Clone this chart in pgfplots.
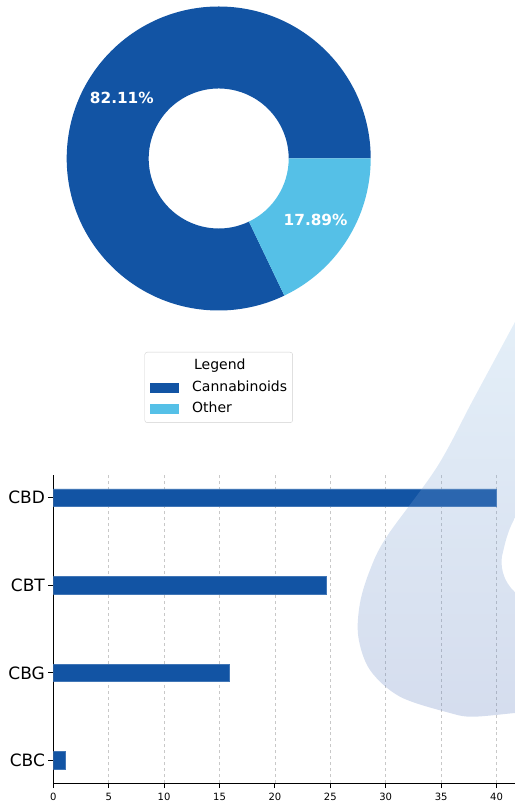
\documentclass[border=0pt]{standalone}
\usepackage{fontspec}
\setmainfont{DejaVu Sans}
\usepackage{pgfplots}
\pgfplotsset{compat=1.18}
\usetikzlibrary{calc}
\definecolor{cbblue}{HTML}{1254A4}
\definecolor{otherblue}{HTML}{55C0E7}
\definecolor{gridgray}{HTML}{C8C8C8}
\definecolor{wmtop}{RGB}{150,195,230}
\definecolor{wmbot}{RGB}{87,119,187}

\begin{document}
\begin{tikzpicture}
\useasboundingbox (0,0) rectangle (515bp,804bp);
% pie shares (percent)
\def\pieA{82.11}
\def\pieB{17.89}
\pgfmathsetmacro{\angA}{\pieA/(\pieA+\pieB)*360}
\pgfmathsetmacro{\midA}{\angA/2}
\pgfmathsetmacro{\midB}{(\angA+360)/2}

% donut
\begin{axis}[
  at={(218.7bp,645.5bp)}, anchor=center,
  scale only axis, width=304bp, height=304bp,
  xmin=-1, xmax=1, ymin=-1, ymax=1,
  hide axis,
  legend cell align=left,
  legend style={at={(0.5,-0.1365)}, anchor=north,
    draw=black!18, rounded corners=2.5bp,
    font=\fontsize{14bp}{16bp}\selectfont,
    inner xsep=5.5bp, inner ysep=7bp,
    nodes={inner sep=0pt, text height=10.5bp, text depth=3bp},
    row sep=8bp, column sep=13.5bp},
]
\addlegendimage{empty legend}
\addlegendentry{\hspace*{2bp}Legend}
\addlegendimage{legend image code/.code={\fill[cbblue, sharp corners] (0bp,-4.5bp) rectangle (28bp,4.5bp);}}
\addlegendentry{Cannabinoids}
\addlegendimage{legend image code/.code={\fill[otherblue, sharp corners] (0bp,-4.5bp) rectangle (28bp,4.5bp);}}
\addlegendentry{Other}

\fill[cbblue] ($(axis cs:0,0)+(0:152bp)$) arc[start angle=0, end angle=\angA, radius=152bp]
  -- ($(axis cs:0,0)+(\angA:70bp)$) arc[start angle=\angA, end angle=0, radius=70bp] -- cycle;
\fill[otherblue] ($(axis cs:0,0)+(\angA:152bp)$) arc[start angle=\angA, end angle=360, radius=152bp]
  -- ($(axis cs:0,0)+(360:70bp)$) arc[start angle=360, end angle=\angA, radius=70bp] -- cycle;
\node[white, font=\bfseries\fontsize{15.3bp}{17bp}\selectfont]
  at ($(axis cs:0,0)+(\midA:114.5bp)$) {82.11\%};
\node[white, font=\bfseries\fontsize{15.3bp}{17bp}\selectfont]
  at ($(axis cs:0,0)+(\midB:114.5bp)$) {17.89\%};
\end{axis}

% bars
\begin{axis}[
  at={(53.3bp,20.7bp)}, anchor=south west,
  scale only axis, width=465.4bp, height=308.3bp,
  xmin=0, xmax=42, ymin=-0.26, ymax=3.26,
  xbar, bar width=17.6bp,
  axis x line*=bottom, axis y line*=left,
  axis line style={line width=1bp, black, -},
  tick align=outside, major tick length=4.9bp,
  tick style={line width=1bp, black},
  xtick={0,5,...,40}, ytick={0,1,2,3},
  yticklabels={CBC,CBG,CBT,CBD},
  xmajorgrids, grid style={gridgray, dashed, line width=0.8bp},
  xticklabel style={font=\fontsize{10bp}{11bp}\selectfont, yshift=-1.5bp},
  yticklabel style={font=\fontsize{17bp}{18bp}\selectfont},
  /pgf/number format/assume math mode=true,
]
\addplot[fill=cbblue, draw=cbblue!80!white, line width=0.6bp]
  coordinates {(1.08,0) (15.9,1) (24.67,2) (40,3)};
\end{axis}

% faint backdrop shape, bottom right
\shade[top color=wmtop, bottom color=wmbot, opacity=0.25]
  plot[smooth, tension=0.55] coordinates {(530bp,510bp) (515bp,482bp) (473bp,404bp) (437bp,337bp)
    (386.7bp,267.3bp) (370bp,234bp) (360bp,201bp) (358.3bp,167.3bp) (370bp,134bp)
    (400bp,107.3bp) (450bp,91bp) (473bp,87.3bp) (515bp,91bp) (530bp,92bp)}
  -- (530bp,212bp) -- (515bp,212bp)
  .. controls (503bp,222bp) and (499bp,240bp) .. (503bp,252bp)
  .. controls (506bp,266bp) and (510bp,278bp) .. (515bp,286bp) -- (530bp,290bp) -- cycle;
\end{tikzpicture}
\end{document}
